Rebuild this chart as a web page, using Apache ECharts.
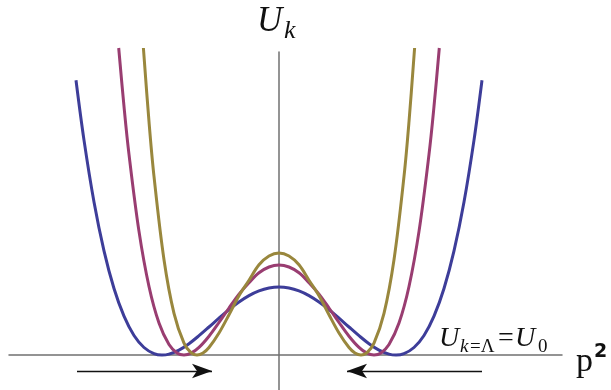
<!DOCTYPE html>
<html>
<head>
<meta charset="utf-8">
<script src="https://cdn.jsdelivr.net/npm/echarts@6/dist/echarts.min.js"></script>
<style>
  html, body { margin: 0; padding: 0; background: #fff; }
  #chart { width: 611px; height: 390px; }
</style>
</head>
<body>
<div id="chart"></div>
<script>
// Effective potential U_k versus p^2 at three stages of the flow (x: p^2, y: U_k)
const curveBlue = [
  [-2.03, 2.748], [-1.95, 2.149], [-1.85, 1.530], [-1.75, 1.041], [-1.65, 0.665],
  [-1.55, 0.388], [-1.45, 0.195], [-1.35, 0.075], [-1.25, 0.014], [-1.17, 0.0],
  [-1.10, 0.009], [-1.00, 0.049], [-0.90, 0.113], [-0.80, 0.193], [-0.70, 0.280],
  [-0.60, 0.369], [-0.50, 0.454], [-0.40, 0.530], [-0.30, 0.594], [-0.20, 0.641],
  [-0.10, 0.670], [0.00, 0.680], [0.10, 0.670], [0.20, 0.641], [0.30, 0.594],
  [0.40, 0.530], [0.50, 0.454], [0.60, 0.369], [0.70, 0.280], [0.80, 0.193],
  [0.90, 0.113], [1.00, 0.049], [1.10, 0.009], [1.17, 0.0], [1.25, 0.014],
  [1.35, 0.075], [1.45, 0.195], [1.55, 0.388], [1.65, 0.665], [1.75, 1.041],
  [1.85, 1.530], [1.95, 2.149], [2.03, 2.748]
];
const curveMagenta = [
  [-1.603, 3.07], [-1.55, 2.486], [-1.50, 2.006], [-1.40, 1.236], [-1.30, 0.685],
  [-1.20, 0.319], [-1.10, 0.105], [-1.02, 0.021], [-0.95, 0.0], [-0.88, 0.018],
  [-0.80, 0.076], [-0.70, 0.188], [-0.60, 0.325], [-0.50, 0.470], [-0.40, 0.609],
  [-0.30, 0.723], [-0.20, 0.822], [-0.10, 0.880], [0.00, 0.900], [0.10, 0.880],
  [0.20, 0.822], [0.30, 0.723], [0.40, 0.609], [0.50, 0.470], [0.60, 0.325],
  [0.70, 0.188], [0.80, 0.076], [0.88, 0.018], [0.95, 0.0], [1.02, 0.021],
  [1.10, 0.105], [1.20, 0.319], [1.30, 0.685], [1.40, 1.236], [1.50, 2.006],
  [1.55, 2.486], [1.603, 3.07]
];
const curveOlive = [
  [-1.356, 3.07], [-1.30, 2.334], [-1.25, 1.786], [-1.15, 0.953], [-1.05, 0.417],
  [-0.95, 0.119], [-0.88, 0.023], [-0.82, 0.0], [-0.76, 0.020], [-0.70, 0.075],
  [-0.60, 0.220], [-0.50, 0.403], [-0.40, 0.593], [-0.30, 0.747], [-0.20, 0.902],
  [-0.10, 0.990], [0.00, 1.020], [0.10, 0.990], [0.20, 0.902], [0.30, 0.747],
  [0.40, 0.593], [0.50, 0.403], [0.60, 0.220], [0.70, 0.075], [0.76, 0.020],
  [0.82, 0.0], [0.88, 0.023], [0.95, 0.119], [1.05, 0.417], [1.15, 0.953],
  [1.25, 1.786], [1.30, 2.334], [1.356, 3.07]
];
// Arrows showing the minima moving inward as k decreases
const arrowLeft = [[-2.02, -0.16], [-0.67, -0.16]];
const arrowRight = [[2.03, -0.16], [0.68, -0.16]];

const chart = echarts.init(document.getElementById('chart'), null, { renderer: 'canvas' });

const serif = '"Liberation Serif", "DejaVu Serif", serif';

function curve(data, color, z) {
  return {
    type: 'line',
    data: data,
    smooth: 0.35,
    showSymbol: false,
    clip: false,
    z: z,
    silent: true,
    lineStyle: { color: color, width: 3 },
    animation: false
  };
}

const arrowStyle = { color: '#111', width: 1.4, type: 'solid' };

chart.setOption({
  animation: false,
  grid: { left: 9, right: 49, top: 52, bottom: 0, containLabel: false },
  xAxis: {
    type: 'value', min: -2.70, max: 2.83,
    axisLine: { onZero: true, lineStyle: { color: '#707070', width: 1.5 } },
    axisTick: { show: false }, axisLabel: { show: false }, splitLine: { show: false }
  },
  yAxis: {
    type: 'value', min: -0.35, max: 3.03,
    axisLine: { onZero: true, lineStyle: { color: '#707070', width: 1.5 } },
    axisTick: { show: false }, axisLabel: { show: false }, splitLine: { show: false }
  },
  series: [
    curve(curveBlue, '#3d3d99', 3),
    curve(curveMagenta, '#993d71', 4),
    curve(curveOlive, '#99873d', 5),
    {
      type: 'line', data: [], silent: true,
      markLine: {
        silent: true, animation: false,
        symbol: ['none', 'arrow'], symbolSize: [11, 20],
        label: { show: false },
        lineStyle: arrowStyle,
        emphasis: { disabled: true },
        data: [
          [{ coord: arrowLeft[0] }, { coord: arrowLeft[1] }],
          [{ coord: arrowRight[0] }, { coord: arrowRight[1] }]
        ]
      }
    }
  ],
  graphic: [
    { type: 'text', x: 257, y: 22, style: { text: 'U', font: 'italic 35px ' + serif, fill: '#111', verticalAlign: 'middle' } },
    { type: 'text', x: 284, y: 31, style: { text: 'k', font: 'italic 26px ' + serif, fill: '#111', verticalAlign: 'middle' } },
    { type: 'text', x: 576, y: 362, style: { text: 'p', font: '34px ' + serif, fill: '#111', verticalAlign: 'middle' } },
    { type: 'text', x: 594, y: 352, style: { text: '2', font: 'bold 19px "DejaVu Sans", sans-serif', fill: '#111', verticalAlign: 'middle' } },
    { type: 'text', x: 439, y: 339, style: { text: 'U', font: 'italic 28px ' + serif, fill: '#111', verticalAlign: 'middle' } },
    { type: 'text', x: 460, y: 347, style: { text: 'k', font: 'italic 19px ' + serif, fill: '#111', verticalAlign: 'middle' } },
    { type: 'text', x: 470, y: 347, style: { text: '=Λ', font: '19px ' + serif, fill: '#111', verticalAlign: 'middle' } },
    { type: 'text', x: 498, y: 339, style: { text: '=', font: '28px ' + serif, fill: '#111', verticalAlign: 'middle' } },
    { type: 'text', x: 515, y: 339, style: { text: 'U', font: 'italic 28px ' + serif, fill: '#111', verticalAlign: 'middle' } },
    { type: 'text', x: 538, y: 347, style: { text: '0', font: '19px ' + serif, fill: '#111', verticalAlign: 'middle' } }
  ]
});
</script>
</body>
</html>
